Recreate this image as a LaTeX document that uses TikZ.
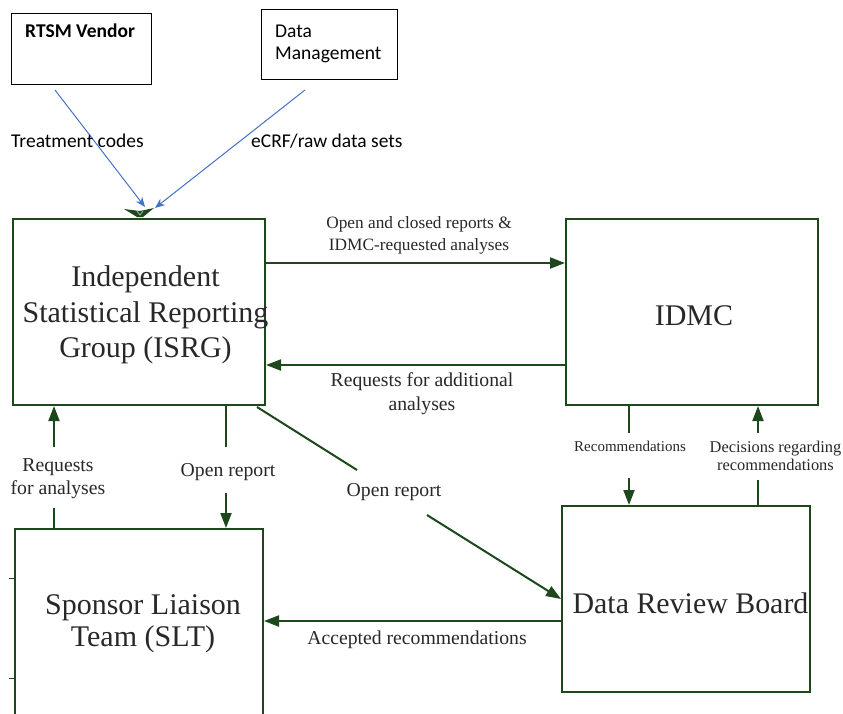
\documentclass[tikz,border=0pt]{standalone}
\usepackage{fontspec}
\setmainfont{Liberation Serif}
\newfontfamily\calfont{Carlito}
\usetikzlibrary{arrows.meta,calc}
\definecolor{gcol}{RGB}{28,72,28}
\definecolor{bcol}{RGB}{68,114,196}
\definecolor{tcol}{RGB}{40,40,40}
\tikzset{
  gbox/.style={draw=gcol,line width=2pt,inner sep=0pt},
  wbox/.style={draw=black,line width=1pt,inner sep=0pt},
  gline/.style={draw=gcol,line width=2pt},
  garrow/.style={gline,-{Triangle[length=15pt,width=11pt]}},
  barrow/.style={draw=bcol,line width=1pt,-{Stealth[length=10pt,width=8pt]}},
  bigtxt/.style={font=\fontsize{30}{35.5}\selectfont,align=center,inner sep=0pt,text=tcol},
  labtxt/.style={font=\fontsize{19.7}{23}\selectfont,align=center,inner sep=0pt,text=tcol},
  smalltxt/.style={font=\fontsize{17.3}{22}\selectfont,align=center,inner sep=0pt,text=tcol},
  tinytxt/.style={font=\fontsize{15}{18}\selectfont,align=center,inner sep=0pt,text=tcol},
  caltxt/.style={font=\calfont\fontsize{19.5}{24}\selectfont,inner sep=0pt,text=black},
}
\begin{document}
\begin{tikzpicture}[x=1pt,y=-1pt]
\clip (0,0) rectangle (843,713);
\fill[white] (0,0) rectangle (843,713);

% top boxes
\node[wbox,minimum width=140pt,minimum height=71pt] (rtsm) at (81,48.5) {};
\node[caltxt,anchor=west,font=\calfont\bfseries\fontsize{19.5}{24}\selectfont] (rtsmt) at (25,31) {RTSM Vendor};
\node[wbox,minimum width=136pt,minimum height=70pt] (dm) at (329,44) {};
\node[caltxt,anchor=west,align=left] (dmt1) at (275,31) {Data};
\node[caltxt,anchor=west,align=left] (dmt2) at (275,55) {Management};

% main boxes
\node[gbox,minimum width=252pt,minimum height=186pt] (isrg) at (139,312) {};
\node[bigtxt] (isrgt) at (145.5,315) {Independent\\Statistical Reporting\\Group (ISRG)};
\node[gbox,minimum width=252pt,minimum height=186pt] (idmc) at (692,312) {};
\node[bigtxt] (idmct) at (694,316) {IDMC};
\node[gbox,minimum width=248pt,minimum height=211pt] (slt) at (139,634.5) {};
\node[bigtxt,font=\fontsize{30}{32}\selectfont] (sltt) at (143,624) {Sponsor Liaison\\Team (SLT)};
\node[gbox,minimum width=248pt,minimum height=186pt] (drb) at (686,599) {};
\node[bigtxt,font=\fontsize{29.9}{34}\selectfont] (drbt) at (690.5,603) {Data Review Board};

% small ticks left of SLT
\draw[gcol,line width=1pt] (9,578) -- (15,578);
\draw[gcol,line width=1pt] (9,678) -- (15,678);

% green mark on top of ISRG
\fill[gcol] (124,209) -- (140,211) -- (154,208) -- (143,217) -- (137,217) -- cycle;
\draw[white!60!gcol,line width=0.8pt] (137,211) -- (140,215) -- (143,211);

% blue arrows
\coordinate (b1s) at (55,90);
\coordinate (b1e) at (145,207);
\coordinate (b2s) at (305,90);
\coordinate (b2e) at (155,208);
\draw[barrow] (b1s) -- (b1e);
\draw[barrow] (b2s) -- (b2e);
\node[caltxt,anchor=west] (tc) at (11,141) {Treatment codes};
\node[caltxt,anchor=west] (ecrf) at (251,141) {eCRF/raw data sets};

% ISRG <-> IDMC
\coordinate (h1) at (0,263);
\coordinate (h2) at (0,365);
\draw[garrow] (isrg.east |- h1) -- (idmc.west |- h1);
\node[smalltxt] (l1) at (419,235) {Open and closed reports \&\\IDMC-requested analyses};
\draw[garrow] (idmc.west |- h2) -- (isrg.east |- h2);
\node[labtxt,font=\fontsize{19.7}{24}\selectfont] (l2) at (422,394) {Requests for additional\\analyses};

% SLT -> ISRG (requests for analyses)
\coordinate (ra1) at (54,508);
\coordinate (ra2) at (54,447);
\draw[gline] (slt.north -| ra1) -- (ra1);
\node[labtxt] (l3) at (58,479) {Requests\\for analyses};
\draw[garrow] (ra2) -- (ra2 |- isrg.south);

% ISRG -> SLT (open report)
\coordinate (or1) at (226,447);
\coordinate (or2) at (226,493);
\draw[gline] (isrg.south -| or1) -- (or1);
\node[labtxt] (l4) at (228,472) {Open report};
\draw[garrow] (or2) -- (or2 |- slt.north);

% ISRG -> DRB diagonal
\coordinate (d0) at (257,407);
\coordinate (d1) at (357,470);
\coordinate (d2) at (427,515);
\draw[gline] (d0) -- (d1);
\node[labtxt] (l5) at (394,492) {Open report};
\draw[garrow] (d2) -- (drb.west);

% IDMC -> DRB recommendations
\coordinate (rc1) at (629,433);
\coordinate (rc2) at (629,478);
\draw[gline] (idmc.south -| rc1) -- (rc1);
\node[tinytxt] (l6) at (630,446) {Recommendations};
\draw[garrow] (rc2) -- (rc2 |- drb.north);

% DRB -> IDMC decisions
\coordinate (dc1) at (758,480);
\coordinate (dc2) at (758,433);
\draw[gline] (drb.north -| dc1) -- (dc1);
\node[tinytxt,font=\fontsize{16.4}{18.5}\selectfont] (l7) at (775.5,456) {Decisions regarding\\recommendations};
\draw[garrow] (dc2) -- (dc2 |- idmc.south);

% DRB -> SLT accepted
\coordinate (h3) at (0,621);
\draw[garrow] (drb.west |- h3) -- (slt.east |- h3);
\node[labtxt] (l8) at (417,640) {Accepted recommendations};
\end{tikzpicture}
\end{document}
